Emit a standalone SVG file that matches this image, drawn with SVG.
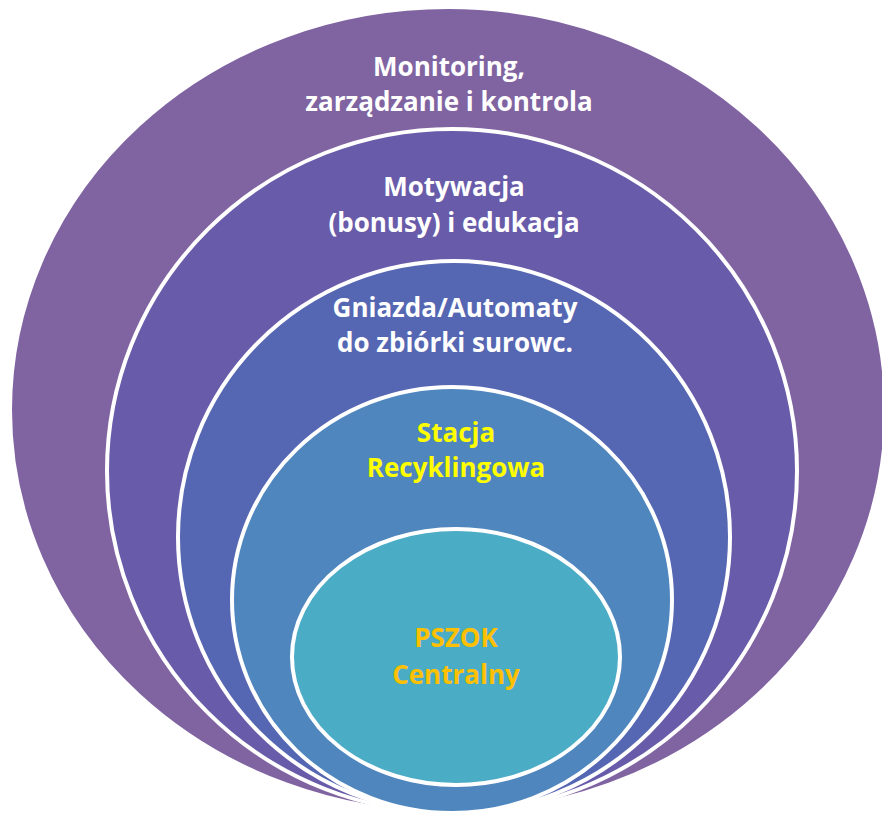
<svg xmlns="http://www.w3.org/2000/svg" width="882" height="815" viewBox="0 0 882 815">
<style>
.ring{stroke:#fff;stroke-width:4}
.t{font-family:"Open Sans","Liberation Sans",sans-serif;font-weight:bold;font-size:26px;text-anchor:middle}
.w{fill:#fff}
</style>
<rect width="882" height="815" fill="#fff"/>
<g id="n1"><ellipse class="ring" cx="448" cy="410" rx="438" ry="403" fill="#8064A2"/>
<text class="t w" x="449" y="76">Monitoring,</text><text class="t w" x="449" y="111">zarządzanie i kontrola</text></g>
<g id="n2"><ellipse class="ring" cx="452" cy="471" rx="345" ry="342" fill="#685BA9"/>
<text class="t w" x="454" y="196">Motywacja</text><text class="t w" x="454" y="232">(bonusy) i edukacja</text></g>
<g id="n3"><ellipse class="ring" cx="454" cy="537" rx="276" ry="276" fill="#5566B2"/>
<text class="t w" x="455" y="317">Gniazda/Automaty</text><text class="t w" x="455" y="352">do zbiórki surowc.</text></g>
<g id="n4"><ellipse class="ring" cx="452" cy="600" rx="220" ry="213" fill="#4F86BE"/>
<text class="t" x="456" y="442" fill="#FFFF00">Stacja</text><text class="t" x="456" y="477" fill="#FFFF00">Recyklingowa</text></g>
<g id="n5"><ellipse class="ring" cx="456" cy="657" rx="164" ry="128" fill="#4BACC6"/>
<text class="t" x="456" y="647" fill="#FFC000">PSZOK</text><text class="t" x="456" y="684" fill="#FFC000">Centralny</text></g>
<g id="connectors"/>
</svg>
